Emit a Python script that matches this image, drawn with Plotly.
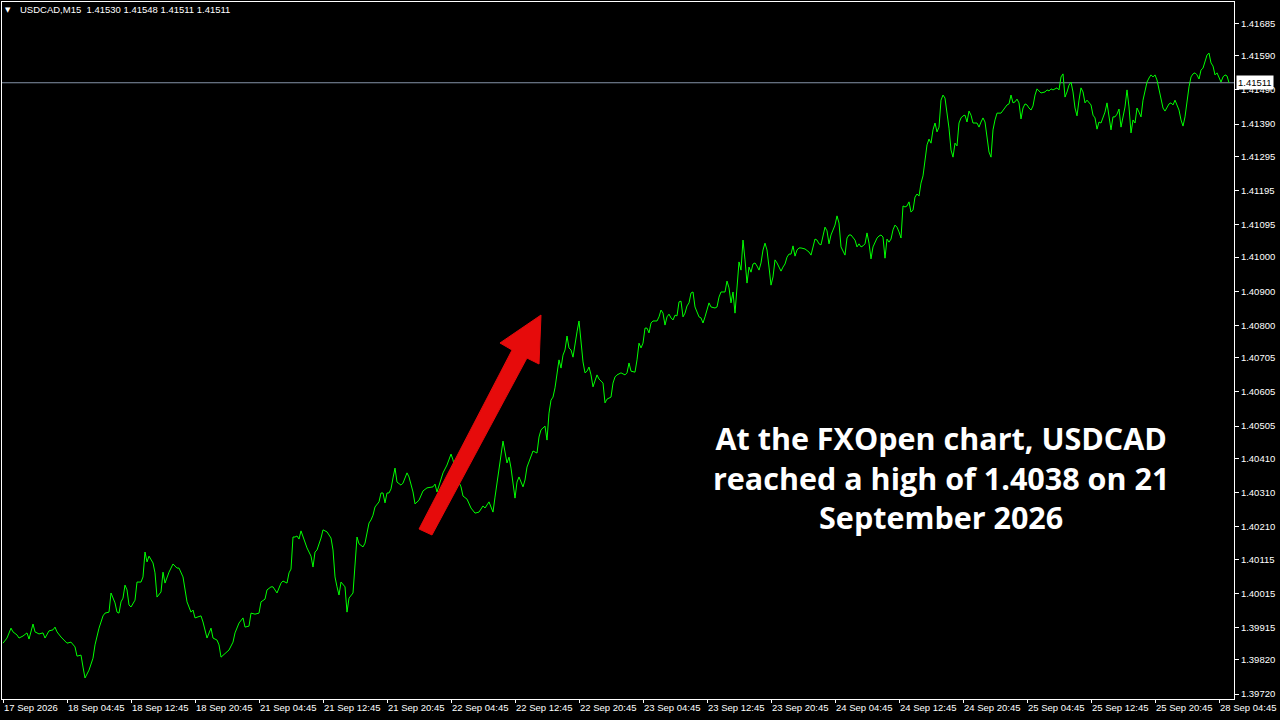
import plotly.graph_objects as go

# ---- data (USDCAD M15, bar index / close) ----
bar_index = [
    0, 2, 4, 5, 7, 8, 10, 12, 13, 15, 16, 18, 20, 21, 23, 25, 26, 27, 29, 31,
    32, 34, 36, 37, 39, 40, 41, 43, 45, 46, 48, 50, 51, 53, 54, 56, 57, 58, 59, 60,
    61, 62, 63, 64, 66, 67, 69, 70, 71, 72, 73, 75, 76, 77, 79, 80, 81, 83, 84, 85,
    87, 88, 90, 91, 92, 94, 95, 96, 98, 99, 100, 101, 102, 104, 105, 107, 108, 109, 111, 113,
    115, 116, 118, 120, 121, 123, 124, 126, 128, 129, 131, 132, 134, 135, 137, 139, 140, 142, 143, 144,
    145, 146, 147, 148, 149, 151, 152, 154, 155, 156, 157, 159, 160, 162, 164, 165, 166, 167, 168, 169,
    171, 172, 173, 175, 176, 177, 178, 180, 181, 182, 183, 184, 185, 186, 188, 189, 190, 191, 192, 193,
    194, 195, 196, 197, 199, 200, 202, 203, 205, 206, 208, 210, 212, 215, 216, 217, 220, 222, 224, 225,
    227, 229, 230, 232, 234, 236, 238, 240, 241, 243, 245, 246, 247, 249, 250, 252, 253, 254, 255, 256,
    257, 258, 260, 261, 262, 264, 265, 267, 268, 269, 271, 272, 273, 274, 275, 276, 277, 278, 279, 280,
    281, 282, 283, 284, 285, 286, 287, 288, 289, 290, 291, 292, 293, 294, 295, 297, 298, 300, 301, 302,
    304, 305, 306, 307, 309, 311, 312, 313, 314, 316, 317, 318, 319, 320, 321, 322, 323, 324, 325, 327,
    328, 329, 330, 331, 332, 333, 334, 335, 336, 337, 338, 339, 340, 341, 342, 343, 344, 345, 346, 348,
    349, 350, 351, 352, 353, 354, 356, 357, 358, 359, 361, 362, 363, 364, 365, 366, 367, 368, 369, 370,
    371, 372, 373, 374, 375, 376, 377, 378, 379, 380, 381, 382, 383, 384, 385, 386, 387, 388, 389, 390,
    391, 392, 393, 394, 395, 396, 397, 398, 399, 401, 403, 404, 406, 407, 408, 409, 410, 411, 412, 413,
    414, 415, 416, 417, 418, 419, 420, 421, 422, 423, 424, 425, 426, 427, 428, 429, 430, 431, 432, 433,
    434, 435, 436, 437, 438, 439, 440, 441, 442, 443, 444, 445, 446, 447, 448, 449, 450, 451, 452, 453,
    454, 455, 456, 457, 458, 459, 460, 461, 462, 463, 464, 465, 466, 467, 468, 469, 470, 471, 472, 473,
    474, 475, 476, 477, 478, 479, 480, 481, 482, 483, 484, 485, 487, 488, 489, 490, 491, 492, 493, 494,
    495, 496, 497, 499, 500, 501, 502, 503, 504, 505, 506, 507, 508, 509, 510, 511, 512, 513, 514, 515,
    516, 517, 518, 519, 521, 522, 523, 524, 525, 526, 527, 528, 529, 530, 531, 532, 533, 534, 535, 536,
    537, 538, 539, 540, 541, 542, 543, 544, 545, 546, 547, 548, 549, 550, 551, 552, 553, 554, 555, 556,
    557, 558, 559, 560, 561, 562, 563, 564, 565, 566, 567, 568, 569, 570, 571, 572, 573, 574, 575, 576,
    577, 578, 579, 580, 581, 582, 583, 584, 585, 586, 587, 588, 589, 590, 591, 592, 593, 594, 595, 596,
    597, 598, 599, 600, 601, 602, 603, 604, 605, 606, 607, 608, 609, 610, 611, 612, 613,
]

close = [
    1.39869, 1.39884, 1.39913, 1.39902, 1.39893, 1.39884, 1.39890, 1.39899, 1.39881, 1.39925,
    1.39902, 1.39896, 1.39899, 1.39884, 1.39905, 1.39908, 1.39916, 1.39902, 1.39887, 1.39875,
    1.39869, 1.39872, 1.39858, 1.39831, 1.39834, 1.39799, 1.39767, 1.39790, 1.39825, 1.39864,
    1.39913, 1.39949, 1.39957, 1.39960, 1.40016, 1.39987, 1.39960, 1.39957, 1.39990, 1.40001,
    1.40039, 1.40025, 1.39981, 1.39975, 1.39995, 1.40048, 1.40048, 1.40063, 1.40136, 1.40107,
    1.40124, 1.40104, 1.40075, 1.40004, 1.40019, 1.40077, 1.40045, 1.40077, 1.40092, 1.40101,
    1.40089, 1.40089, 1.40063, 1.40019, 1.39990, 1.39960, 1.39966, 1.39943, 1.39946, 1.39949,
    1.39931, 1.39902, 1.39884, 1.39913, 1.39884, 1.39878, 1.39864, 1.39828, 1.39840, 1.39849,
    1.39872, 1.39899, 1.39928, 1.39943, 1.39916, 1.39919, 1.39957, 1.39954, 1.39957, 1.39990,
    1.39998, 1.40025, 1.40034, 1.40034, 1.40016, 1.40045, 1.40051, 1.40045, 1.40075, 1.40086,
    1.40180, 1.40180, 1.40183, 1.40174, 1.40198, 1.40162, 1.40148, 1.40124, 1.40092, 1.40136,
    1.40142, 1.40177, 1.40201, 1.40195, 1.40177, 1.40142, 1.40063, 1.40034, 1.40010, 1.40048,
    1.40034, 1.39960, 1.40001, 1.40016, 1.40113, 1.40180, 1.40160, 1.40151, 1.40162, 1.40195,
    1.40221, 1.40230, 1.40244, 1.40268, 1.40283, 1.40309, 1.40309, 1.40280, 1.40309, 1.40309,
    1.40321, 1.40353, 1.40382, 1.40341, 1.40332, 1.40338, 1.40368, 1.40356, 1.40312, 1.40277,
    1.40288, 1.40315, 1.40324, 1.40327, 1.40335, 1.40312, 1.40368, 1.40391, 1.40423, 1.40406,
    1.40353, 1.40327, 1.40300, 1.40291, 1.40265, 1.40250, 1.40253, 1.40271, 1.40265, 1.40283,
    1.40253, 1.40297, 1.40341, 1.40414, 1.40461, 1.40397, 1.40414, 1.40382, 1.40332, 1.40294,
    1.40341, 1.40356, 1.40327, 1.40347, 1.40385, 1.40420, 1.40432, 1.40426, 1.40473, 1.40494,
    1.40505, 1.40464, 1.40543, 1.40581, 1.40590, 1.40617, 1.40666, 1.40699, 1.40675, 1.40713,
    1.40728, 1.40769, 1.40734, 1.40728, 1.40707, 1.40748, 1.40781, 1.40813, 1.40757, 1.40693,
    1.40661, 1.40666, 1.40678, 1.40655, 1.40620, 1.40655, 1.40643, 1.40631, 1.40573, 1.40584,
    1.40590, 1.40631, 1.40649, 1.40655, 1.40661, 1.40655, 1.40661, 1.40690, 1.40666, 1.40663,
    1.40699, 1.40748, 1.40734, 1.40748, 1.40792, 1.40792, 1.40778, 1.40807, 1.40813, 1.40813,
    1.40825, 1.40845, 1.40836, 1.40801, 1.40825, 1.40833, 1.40822, 1.40816, 1.40830, 1.40828,
    1.40869, 1.40871, 1.40825, 1.40836, 1.40857, 1.40866, 1.40895, 1.40898, 1.40854, 1.40825,
    1.40822, 1.40807, 1.40825, 1.40845, 1.40866, 1.40854, 1.40851, 1.40854, 1.40883, 1.40898,
    1.40898, 1.40930, 1.40910, 1.40866, 1.40898, 1.40836, 1.40913, 1.40986, 1.40962, 1.41050,
    1.40992, 1.40924, 1.40971, 1.40956, 1.40980, 1.40983, 1.40974, 1.40962, 1.40983, 1.41021,
    1.41041, 1.41021, 1.40971, 1.40918, 1.40942, 1.40992, 1.40983, 1.40968, 1.40959, 1.40971,
    1.40980, 1.41000, 1.41009, 1.41009, 1.41033, 1.41003, 1.41021, 1.41027, 1.41027, 1.41024,
    1.41015, 1.41006, 1.41053, 1.41050, 1.41039, 1.41036, 1.41059, 1.41088, 1.41077, 1.41039,
    1.41065, 1.41080, 1.41094, 1.41121, 1.41100, 1.41030, 1.41015, 1.41006, 1.41056, 1.41065,
    1.41065, 1.41059, 1.41050, 1.41030, 1.41039, 1.41030, 1.41033, 1.41039, 1.41071, 1.41041,
    1.40995, 1.41030, 1.41041, 1.41056, 1.41062, 1.41065, 1.41059, 1.40997, 1.41053, 1.41044,
    1.41053, 1.41080, 1.41094, 1.41088, 1.41074, 1.41056, 1.41150, 1.41147, 1.41150, 1.41162,
    1.41132, 1.41138, 1.41176, 1.41185, 1.41179, 1.41217, 1.41238, 1.41285, 1.41329, 1.41346,
    1.41334, 1.41373, 1.41393, 1.41367, 1.41381, 1.41460, 1.41475, 1.41466, 1.41425, 1.41378,
    1.41314, 1.41293, 1.41334, 1.41326, 1.41393, 1.41408, 1.41414, 1.41416, 1.41396, 1.41428,
    1.41416, 1.41393, 1.41393, 1.41381, 1.41396, 1.41408, 1.41396, 1.41349, 1.41308, 1.41293,
    1.41373, 1.41402, 1.41422, 1.41422, 1.41431, 1.41437, 1.41446, 1.41449, 1.41475, 1.41452,
    1.41455, 1.41463, 1.41452, 1.41405, 1.41437, 1.41449, 1.41446, 1.41437, 1.41431, 1.41443,
    1.41475, 1.41493, 1.41487, 1.41481, 1.41484, 1.41490, 1.41487, 1.41493, 1.41490, 1.41493,
    1.41496, 1.41490, 1.41528, 1.41537, 1.41469, 1.41484, 1.41504, 1.41513, 1.41484, 1.41437,
    1.41414, 1.41460, 1.41496, 1.41484, 1.41452, 1.41460, 1.41452, 1.41446, 1.41416, 1.41408,
    1.41375, 1.41396, 1.41393, 1.41408, 1.41425, 1.41452, 1.41416, 1.41373, 1.41411, 1.41411,
    1.41419, 1.41434, 1.41381, 1.41411, 1.41440, 1.41490, 1.41440, 1.41364, 1.41402, 1.41393,
    1.41437, 1.41425, 1.41411, 1.41460, 1.41487, 1.41513, 1.41525, 1.41534, 1.41528, 1.41534,
    1.41519, 1.41490, 1.41455, 1.41437, 1.41428, 1.41440, 1.41449, 1.41452, 1.41446, 1.41460,
    1.41443, 1.41431, 1.41402, 1.41384, 1.41411, 1.41460, 1.41499, 1.41528, 1.41537, 1.41540,
    1.41534, 1.41522, 1.41548, 1.41554, 1.41572, 1.41592, 1.41598, 1.41569, 1.41560, 1.41534,
    1.41540, 1.41528, 1.41513, 1.41528, 1.41534, 1.41531, 1.41511,
]

x_tick_index = [0, 32, 64, 96, 128, 160, 192, 224, 256, 288,
                320, 352, 384, 416, 448, 480, 512, 544, 576, 608]
x_tick_labels = ["17 Sep 2026", "18 Sep 04:45", "18 Sep 12:45", "18 Sep 20:45",
                 "21 Sep 04:45", "21 Sep 12:45", "21 Sep 20:45", "22 Sep 04:45",
                 "22 Sep 12:45", "22 Sep 20:45", "23 Sep 04:45", "23 Sep 12:45",
                 "23 Sep 20:45", "24 Sep 04:45", "24 Sep 12:45", "24 Sep 20:45",
                 "25 Sep 04:45", "25 Sep 12:45", "25 Sep 20:45", "28 Sep 04:45"]

y_tick_values = [1.41685, 1.41590, 1.41490, 1.41390, 1.41295, 1.41195, 1.41095,
                 1.41000, 1.40900, 1.40800, 1.40705, 1.40605, 1.40505, 1.40410,
                 1.40310, 1.40210, 1.40115, 1.40015, 1.39915, 1.39820, 1.39720]

header_ohlc = [1.41530, 1.41548, 1.41511, 1.41511]
symbol = "USDCAD,M15"
caption = "At the FXOpen chart, USDCAD<br>reached a high of 1.4038 on 21<br>September 2026"

# ---- figure ----
AXIS_FONT = dict(family="Liberation Sans, Arial, sans-serif", size=9.5, color="#ffffff")

fig = go.Figure()
fig.add_trace(go.Scatter(
    x=bar_index, y=close, mode="lines",
    line=dict(color="#00ff00", width=1),
    hoverinfo="skip", showlegend=False,
))

last_close = close[-1]

fig.update_layout(
    width=1280, height=720,
    paper_bgcolor="#000000", plot_bgcolor="#000000",
    margin=dict(l=2, r=46, t=2, b=21, autoexpand=False),
    showlegend=False,
    xaxis=dict(
        range=[-0.5, 615.5], showgrid=False, zeroline=False, automargin=False,
        showline=True, linecolor="#ffffff", linewidth=1, mirror=True,
        ticks="outside", ticklen=3, tickcolor="#ffffff", tickangle=0,
        tickvals=x_tick_index, ticktext=x_tick_labels,
        ticklabelposition="outside right",
        tickfont=AXIS_FONT,
    ),
    yaxis=dict(
        range=[1.397054, 1.417476], side="right", showgrid=False, zeroline=False,
        automargin=False,
        showline=True, linecolor="#ffffff", linewidth=1, mirror=True,
        ticks="outside", ticklen=4, tickcolor="#ffffff",
        tickvals=y_tick_values, ticktext=[f"{v:.5f}" for v in y_tick_values],
        tickfont=AXIS_FONT,
    ),
    shapes=[
        # current bid line
        dict(type="line", xref="paper", x0=0, x1=1, yref="y", y0=last_close, y1=last_close,
             line=dict(color="#8493a8", width=1), layer="below"),
        # red arrow
        dict(type="path", xref="paper", yref="paper",
             path="M 0.3385 0.2439 L 0.4140 0.5007 L 0.4042 0.5108 L 0.4375 0.5509 "
                  "L 0.4359 0.4806 L 0.4261 0.4892 L 0.3490 0.2353 Z",
             fillcolor="#e60b0b", line=dict(color="#e60b0b", width=1), layer="above"),
    ],
    annotations=[
        dict(xref="paper", yref="paper", x=0.0049, y=0.9888, xanchor="center", yanchor="middle",
             text="▼", showarrow=False, font=dict(family="DejaVu Sans", size=7, color="#ffffff")),
        dict(xref="paper", yref="paper", x=0.0130, y=0.9888, xanchor="left", yanchor="middle",
             text=symbol + "  " + " ".join(f"{v:.5f}" for v in header_ohlc),
             showarrow=False, font=AXIS_FONT),
        dict(xref="paper", yref="y", x=1, y=last_close, xanchor="left", yanchor="middle",
             xshift=2, text=f"{last_close:.5f}", showarrow=False,
             bgcolor="#ffffff", borderpad=1,
             font=dict(family="Liberation Sans, Arial, sans-serif", size=9.5, color="#000000")),
        dict(xref="paper", yref="paper", x=0.7622, y=0.3171, xanchor="center", yanchor="middle",
             text="<b>" + caption + "</b>", showarrow=False, align="center",
             font=dict(family="Open Sans, sans-serif", size=30.5, color="#ffffff")),
    ],
)

fig.write_html(
    "out.html",
    config={"displayModeBar": False},
    post_script="document.body.style.margin='0';document.body.style.overflow='hidden';",
)
